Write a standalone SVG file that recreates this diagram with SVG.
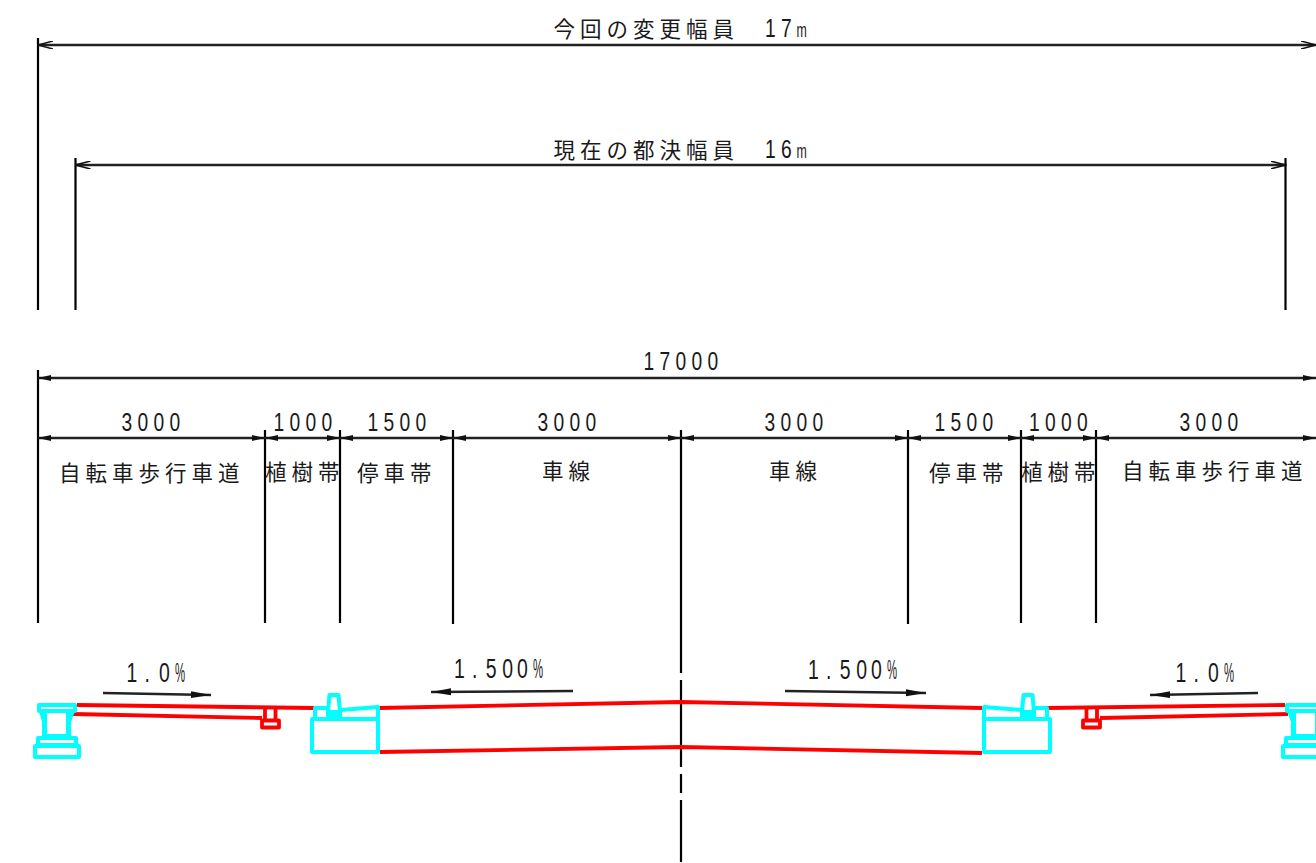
<svg xmlns="http://www.w3.org/2000/svg" width="1316" height="863" viewBox="0 0 1316 863">
<style>
.d{stroke:#222;stroke-width:2.4;fill:none}
.e{stroke:#000;stroke-width:2.2;fill:none}
.c{stroke:#0ff;stroke-width:4;fill:none;stroke-linejoin:round}
.cf{fill:#0ff;stroke:none}
.r{stroke:#f00;stroke-width:3.8;fill:none;stroke-linejoin:round}
.a{fill:#111;stroke:none}
.t{fill:#1a1a1a;font-family:"Noto Sans CJK JP","Liberation Sans",sans-serif;font-size:21.5px;letter-spacing:5px;font-weight:400}
.n{fill:#1a1a1a;font-family:"Liberation Sans",sans-serif;font-size:26px;letter-spacing:7.200px}
.s{fill:#1a1a1a;font-family:"Liberation Sans",sans-serif;font-size:27px}
.m{fill:#1a1a1a;font-family:"Liberation Sans",sans-serif;font-size:20px}
</style>
<defs>
<marker id="o" markerWidth="16" markerHeight="8" refX="15" refY="4" orient="auto-start-reverse" markerUnits="userSpaceOnUse"><path d="M0 0L15 4L0 8" fill="none" stroke="#111" stroke-width="1.5"/></marker>
<marker id="f" markerWidth="13" markerHeight="7" refX="13" refY="3.500" orient="auto-start-reverse" markerUnits="userSpaceOnUse"><path d="M0 .5L13 3.500L0 6.500Z" fill="#111"/></marker>
<marker id="g" markerWidth="20" markerHeight="8" refX="20" refY="4" orient="auto" markerUnits="userSpaceOnUse"><path d="M0 .5L20 4L0 7.500Z" fill="#111"/></marker>
<g id="curb">
<path class="cf" d="M39 711H46V737H42V722ZM75 711H67V737H71V722Z"/>
<path class="c" d="M39 705H75V711H39ZM45 711H68V736H45ZM38 738H76V745H38ZM35 746H79V757H35Z"/>
</g>
<g id="median">
<path class="c" d="M312 719H378V752H312ZM315 719V708H328M378 719V707L341 710M329.500 695H338.500L340 712H328Z"/>
<rect class="cf" x="326" y="711" width="16" height="7"/>
</g>
<path id="inlet" class="r" d="M265 708V720.500M275.500 708V720.500M262 720.500H279V727.500H262Z"/>
</defs>
<g id="connectors">
<path class="e" d="M38 38V310M75.500 158V310M1285.500 158V310M38 370V623M265 430V623M340 430V623M453 430V624M681 430V673M908 430V624M1021 430V623M1096 430V623M681 680V767M681 774V793M681 800V862"/>
<line class="d" x1="38" y1="45" x2="1316" y2="45" marker-start="url(#o)" marker-end="url(#o)"/>
<line class="d" x1="75.500" y1="165" x2="1285.500" y2="165" marker-start="url(#o)" marker-end="url(#o)"/>
<line class="d" x1="38" y1="378" x2="1316" y2="378" marker-start="url(#f)" marker-end="url(#f)"/>
<path class="d" d="M38 438H1316"/>
<path class="a" d="M38 438l13-3v6zM265 438l-13-3v6zM265 438l13-3v6zM340 438l-13-3v6zM340 438l13-3v6zM453 438l-13-3v6zM453 438l13-3v6zM681 438l-13-3v6zM681 438l13-3v6zM908 438l-13-3v6zM908 438l13-3v6zM1021 438l-13-3v6zM1021 438l13-3v6zM1096 438l-13-3v6zM1096 438l13-3v6zM1316 438l-13-3v6z"/>
<line class="d" x1="103" y1="693" x2="211" y2="695" marker-end="url(#g)"/>
<line class="d" x1="573" y1="691" x2="431" y2="692" marker-end="url(#g)"/>
<line class="d" x1="785" y1="691" x2="926" y2="693" marker-end="url(#g)"/>
<line class="d" x1="1258" y1="693" x2="1150" y2="695" marker-end="url(#g)"/>
</g>
<g id="road">
<path class="r" d="M77 705L314 708M73 714L262 718M379 708L681 702L982 708M380 752L681 747L982 753M1046 708L1285 705M1100 718L1288 714"/>
<use href="#inlet"/>
<use href="#inlet" transform="translate(1362 0) scale(-1 1)"/>
</g>
<g id="curb-left"><use href="#curb"/></g>
<g id="median-left"><use href="#median"/></g>
<g id="median-right"><use href="#median" transform="translate(1362 0) scale(-1 1)"/></g>
<g id="curb-right"><use href="#curb" transform="translate(1362 0) scale(-1 1)"/></g>
<g id="labels">
<text class="t" x="553.500" y="37">今回の変更幅員</text>
<text class="n" transform="translate(765 37) scale(.74 1)">17</text><text class="m" transform="translate(796.500 37) scale(.62 1)">m</text>
<text class="t" x="553.500" y="158">現在の都決幅員</text>
<text class="n" transform="translate(765 158) scale(.74 1)">16</text><text class="m" transform="translate(796.500 158) scale(.62 1)">m</text>
<text class="n" transform="translate(643.500 370) scale(.74 1)">17000</text>
<text class="n" transform="translate(121.500 431) scale(.74 1)">3000</text>
<text class="n" transform="translate(273.500 431) scale(.74 1)">1000</text>
<text class="n" transform="translate(367.500 431) scale(.74 1)">1500</text>
<text class="n" transform="translate(537.500 431) scale(.74 1)">3000</text>
<text class="n" transform="translate(764.500 431) scale(.74 1)">3000</text>
<text class="n" transform="translate(934.500 431) scale(.74 1)">1500</text>
<text class="n" transform="translate(1029 431) scale(.74 1)">1000</text>
<text class="n" transform="translate(1179.500 431) scale(.74 1)">3000</text>
<text class="t" x="59" y="481">自転車歩行車道</text>
<text class="t" x="265" y="480">植樹帯</text>
<text class="t" x="357" y="481">停車帯</text>
<text class="t" x="542" y="479">車線</text>
<text class="t" x="769" y="479">車線</text>
<text class="t" x="929" y="481">停車帯</text>
<text class="t" x="1021" y="480">植樹帯</text>
<text class="t" x="1122" y="479">自転車歩行車道</text>
<text class="s" transform="translate(126.500 682) scale(.72 1)" x="0 25 45">1.0</text><text class="s" transform="translate(175 682) scale(.42 1)">%</text>
<text class="s" transform="translate(454 678) scale(.72 1)" x="0 25 44 67 87.500">1.500</text><text class="s" transform="translate(533 678) scale(.42 1)">%</text>
<text class="s" transform="translate(808 679) scale(.72 1)" x="0 25 44 67 87.500">1.500</text><text class="s" transform="translate(887 679) scale(.42 1)">%</text>
<text class="s" transform="translate(1175.500 682) scale(.72 1)" x="0 25 45">1.0</text><text class="s" transform="translate(1224 682) scale(.42 1)">%</text>
</g>
</svg>
